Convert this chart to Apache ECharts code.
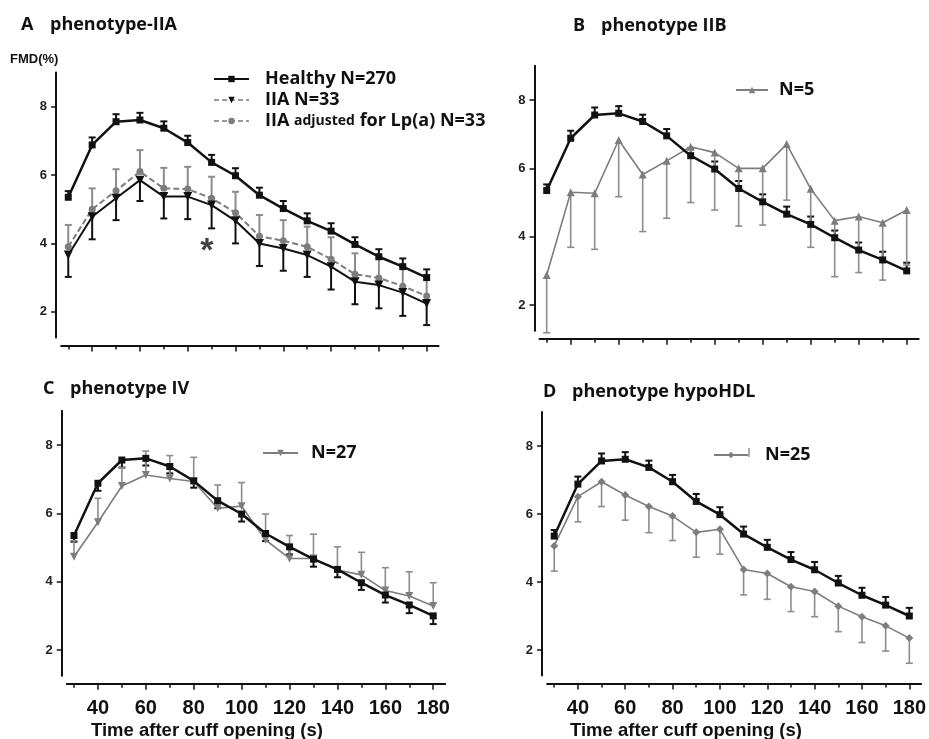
<!DOCTYPE html>
<html><head><meta charset="utf-8">
<script src="https://cdn.jsdelivr.net/npm/echarts@6/dist/echarts.min.js"></script>
<style>html,body{margin:0;padding:0;background:#fff}#c{width:929px;height:739px}</style>
</head><body><div id="c"></div><script>
// ---- data ----
const xValues = [30,40,50,60,70,80,90,100,110,120,130,140,150,160,170,180];
const xTickLabels = [40,60,80,100,120,140,160,180];
const xMinorTicks = [30,50,70,90,110,130,150,170];
const yTickValues = [2,4,6,8];

const healthy    = [5.35,6.88,7.56,7.61,7.37,6.95,6.37,5.98,5.41,5.02,4.66,4.36,3.97,3.61,3.32,3.00];
const healthyErr = [0.18,0.22,0.22,0.21,0.20,0.20,0.22,0.22,0.22,0.22,0.22,0.23,0.21,0.22,0.24,0.24];

const iia    = [3.66,4.78,5.32,5.85,5.37,5.37,5.12,4.66,4.00,3.85,3.66,3.32,2.88,2.78,2.56,2.24];
const iiaErr = [0.64,0.66,0.64,0.61,0.64,0.66,0.68,0.66,0.66,0.65,0.64,0.67,0.66,0.68,0.68,0.63];

const iiaAdj    = [3.90,5.00,5.54,6.10,5.61,5.59,5.32,4.90,4.21,4.08,3.90,3.54,3.10,2.99,2.75,2.46];
const iiaAdjErr = [0.64,0.61,0.63,0.63,0.60,0.65,0.63,0.61,0.62,0.60,0.59,0.64,0.61,0.57,0.57,0.61];

const iib    = [2.88,5.30,5.27,6.83,5.82,6.22,6.63,6.46,6.00,6.00,6.71,5.40,4.47,4.59,4.41,4.78];
const iibErr = [1.69,1.61,1.64,1.66,1.67,1.68,1.63,1.68,1.69,1.66,1.64,1.71,1.64,1.64,1.68,1.61];

const iv    = [4.73,5.74,6.80,7.12,7.02,6.93,6.15,6.21,5.22,4.68,4.68,4.34,4.20,3.74,3.58,3.29];
const ivErr = [0.47,0.70,0.54,0.70,0.67,0.71,0.68,0.69,0.76,0.67,0.71,0.68,0.66,0.67,0.71,0.68];

const hypo    = [5.06,6.51,6.95,6.56,6.22,5.94,5.46,5.55,4.37,4.25,3.86,3.72,3.29,2.98,2.71,2.35];
const hypoErr = [0.74,0.74,0.73,0.74,0.77,0.72,0.73,0.73,0.75,0.76,0.73,0.74,0.75,0.76,0.74,0.74];

const asteriskPos = [[88, 3.75]];

const panelTitles = [['A','phenotype-IIA'],['B','phenotype IIB'],['C','phenotype IV'],['D','phenotype hypoHDL']];
const legendNames = ['Healthy N=270','IIA N=33','IIA adjusted for Lp(a) N=33','N=5','N=27','N=25'];
const xAxisTitle = 'Time after cuff opening (s)';
const yAxisTitle = 'FMD(%)';

// ---- styling / layout ----
const BLACK = '#111', GRAY = '#7d7d7d', GRAYBAR = '#8c8c8c';
const grids = [
  {left:61.1, top:72.5, width:377.5, height:264.9},
  {left:539.5, top:65.8, width:379.2, height:264.9},
  {left:66.8, top:410.8, width:378.4, height:264.9},
  {left:547.1, top:412, width:377.1, height:263.5}
];
const pairs = v => xValues.map((x,i)=>[x, v[i]]);

const xAxes = [], yAxes = [];
grids.forEach((g, gi) => {
  xAxes.push({type:'value', gridIndex:gi, min:27, max:185, offset:8, position:'bottom',
    axisLine:{show:true, onZero:false, lineStyle:{color:BLACK, width:2}},
    axisTick:{show:true, customValues:xTickLabels, length:6, lineStyle:{color:BLACK, width:1.5}},
    axisLabel:{show: gi>=2, customValues:xTickLabels, margin:15, fontSize:20, fontWeight:'bold',
      color:BLACK, fontFamily:'Liberation Sans'},
    splitLine:{show:false}});
  xAxes.push({type:'value', gridIndex:gi, min:27, max:185, offset:8, position:'bottom',
    axisLine:{show:false, onZero:false},
    axisTick:{show:true, customValues:xMinorTicks, length:4, lineStyle:{color:BLACK, width:1.5}},
    axisLabel:{show:false}, splitLine:{show:false}});
  yAxes.push({type:'value', gridIndex:gi, min:1.25, max:9, offset:5,
    axisLine:{show:true, lineStyle:{color:BLACK, width:2}},
    axisTick:{show:true, customValues:yTickValues, length:5, lineStyle:{color:BLACK, width:1.5}},
    axisLabel:{customValues:yTickValues, margin:9, fontSize:13, fontWeight:'bold', color:'#222',
      fontFamily:'Liberation Sans'},
    splitLine:{show:false}});
});

function lineSeries(name, gi, vals, color, symbol, size, opts) {
  return Object.assign({
    type:'line', name, xAxisIndex:gi*2, yAxisIndex:gi, data:pairs(vals),
    symbol, symbolSize:size, showAllSymbol:true, z:3,
    lineStyle:{color, width:2}, itemStyle:{color}, emphasis:{disabled:true}, animation:false
  }, opts || {});
}
function errSeries(gi, vals, errs, dir, color, width, capW) {
  return {
    type:'custom', xAxisIndex:gi*2, yAxisIndex:gi, clip:false, z:2, animation:false, silent:true,
    data: xValues.map((x,i)=>[x, vals[i], vals[i] + dir*errs[i]]),
    renderItem(params, api) {
      const p0 = api.coord([api.value(0), api.value(1)]);
      const p1 = api.coord([api.value(0), api.value(2)]);
      return {type:'group', children:[
        {type:'line', shape:{x1:p0[0], y1:p0[1], x2:p1[0], y2:p1[1]}, style:{stroke:color, lineWidth:width}},
        {type:'line', shape:{x1:p1[0]-capW/2, y1:p1[1], x2:p1[0]+capW/2, y2:p1[1]}, style:{stroke:color, lineWidth:width}}
      ]};
    }
  };
}

const series = [
  // A
  errSeries(0, healthy, healthyErr, 1, BLACK, 2, 7),
  errSeries(0, iiaAdj, iiaAdjErr, 1, GRAYBAR, 2, 7),
  errSeries(0, iia, iiaErr, -1, BLACK, 2, 7),
  lineSeries('Healthy N=270', 0, healthy, BLACK, 'rect', 7, {lineStyle:{color:BLACK, width:2.5}}),
  lineSeries('IIA adjusted for Lp(a) N=33', 0, iiaAdj, GRAY, 'circle', 7, {lineStyle:{color:GRAY, width:2, type:[6,3]}}),
  lineSeries('IIA N=33', 0, iia, BLACK, 'triangle', 9, {symbolRotate:180, lineStyle:{color:BLACK, width:2}}),
  {type:'scatter', xAxisIndex:0, yAxisIndex:0, data:asteriskPos, symbolSize:0, silent:true, animation:false,
   label:{show:true, formatter:'*', position:'inside', fontSize:34, fontWeight:'bold', color:BLACK, fontFamily:'Liberation Sans'}},
  // B
  errSeries(1, healthy, healthyErr, 1, BLACK, 2, 7),
  errSeries(1, iib, iibErr, -1, GRAYBAR, 1.6, 7),
  lineSeries('N=5', 1, iib, GRAY, 'triangle', 8, {lineStyle:{color:GRAY, width:1.6}}),
  lineSeries('Healthy B', 1, healthy, BLACK, 'rect', 7, {lineStyle:{color:BLACK, width:2.5}}),
  // C
  errSeries(2, healthy, healthyErr, -1, BLACK, 2, 7),
  errSeries(2, iv, ivErr, 1, GRAYBAR, 1.6, 7),
  lineSeries('N=27', 2, iv, GRAY, 'triangle', 8, {symbolRotate:180, lineStyle:{color:GRAY, width:1.6}}),
  lineSeries('Healthy C', 2, healthy, BLACK, 'rect', 7, {lineStyle:{color:BLACK, width:2.5}}),
  // D
  errSeries(3, healthy, healthyErr, 1, BLACK, 2, 7),
  errSeries(3, hypo, hypoErr, -1, GRAYBAR, 1.6, 7),
  lineSeries('Healthy D', 3, healthy, BLACK, 'rect', 7, {lineStyle:{color:BLACK, width:2.5}}),
  lineSeries('N=25', 3, hypo, GRAY, 'diamond', 8, {lineStyle:{color:GRAY, width:1.6}})
];

const legText = {fontFamily:'Open Sans', fontWeight:'bold', fontSize:18, color:BLACK};
const legends = [
  {orient:'vertical', left:208, top:64, itemWidth:35, itemHeight:8, itemGap:1, selectedMode:false,
   data:[{name:legendNames[0]},
         {name:legendNames[1], lineStyle:{color:'#999', type:[5,3]}},
         {name:legendNames[2], lineStyle:{color:'#999', type:[5,3]}}],
   textStyle:Object.assign({}, legText, {lineHeight:20, padding:[0,0,0,11],
     rich:{b:{fontFamily:'Open Sans', fontWeight:'bold', fontSize:18, color:BLACK, lineHeight:20},
           s:{fontFamily:'Open Sans', fontWeight:'bold', fontSize:14, color:BLACK, lineHeight:20}}}),
   formatter: n => n === legendNames[2] ? '{b|IIA} {s|adjusted} {b|for Lp(a) N=33}' : n},
  {left:730, top:76, itemWidth:32, itemHeight:8, selectedMode:false, data:[legendNames[3]],
   textStyle:Object.assign({}, legText, {padding:[0,0,0,6]})},
  {left:257, top:439, itemWidth:35, itemHeight:8, selectedMode:false, data:[legendNames[4]],
   textStyle:Object.assign({}, legText, {padding:[0,0,0,8]})},
  {left:708, top:441, itemWidth:34, itemHeight:8, selectedMode:false, data:[legendNames[5]],
   textStyle:Object.assign({}, legText, {padding:[0,0,0,12]})}
];

const titleFont = {fontFamily:'Open Sans', fontWeight:'bold', fontSize:18, fill:BLACK};
const titlePos = [[21,29,29],[573,30,28],[43,393,27],[543,396,29]];
const graphic = [];
panelTitles.forEach((t, i) => {
  const [x, y, gap] = titlePos[i];
  graphic.push({type:'text', left:x, top:y-13, style:Object.assign({text:t[0]}, titleFont)});
  graphic.push({type:'text', left:x+gap, top:y-13, style:Object.assign({text:t[1]}, titleFont)});
});
graphic.push({type:'text', left:10, top:53, style:{text:yAxisTitle, fontFamily:'Liberation Sans', fontWeight:'bold', fontSize:13, fill:BLACK}});
graphic.push({type:'text', left:91, top:721, style:{text:xAxisTitle, fontFamily:'Liberation Sans', fontWeight:'bold', fontSize:18.5, fill:BLACK}});
graphic.push({type:'text', left:570, top:721, style:{text:xAxisTitle, fontFamily:'Liberation Sans', fontWeight:'bold', fontSize:18.5, fill:BLACK}});
graphic.push({type:'line', shape:{x1:749, y1:448, x2:749, y2:457}, style:{stroke:'#777', lineWidth:1.2}});

const chart = echarts.init(document.getElementById('c'), null, {renderer:'canvas'});
chart.setOption({
  backgroundColor:'#fff', animation:false,
  grid: grids, xAxis: xAxes, yAxis: yAxes, legend: legends, series, graphic
});
</script></body></html>
